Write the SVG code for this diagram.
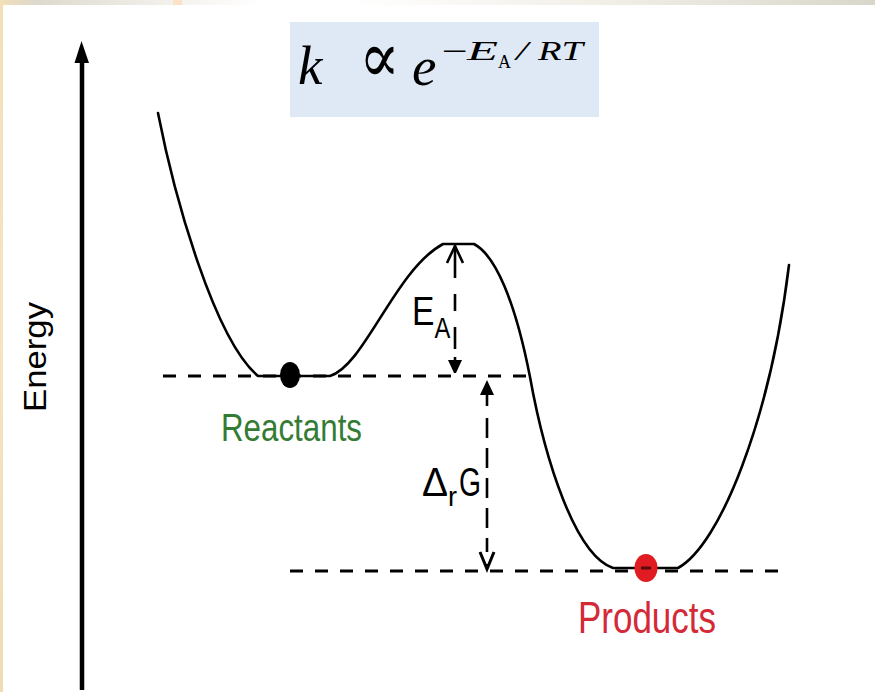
<svg xmlns="http://www.w3.org/2000/svg" width="875" height="692" viewBox="0 0 875 692">
  <defs>
    <linearGradient id="topg" x1="0" y1="0" x2="875" y2="0" gradientUnits="userSpaceOnUse">
      <stop offset="0" stop-color="#f2dfb8"/>
      <stop offset="0.04" stop-color="#ddd9cc"/>
      <stop offset="0.2" stop-color="#f4f2ee"/>
      <stop offset="0.3" stop-color="#ffffff"/>
      <stop offset="0.4" stop-color="#ffffff"/>
      <stop offset="0.7" stop-color="#f1eee6"/>
      <stop offset="1" stop-color="#d9d6cb"/>
    </linearGradient>
    <linearGradient id="leftg" x1="0" y1="0" x2="0" y2="692" gradientUnits="userSpaceOnUse">
      <stop offset="0" stop-color="#f3e0b8"/>
      <stop offset="0.5" stop-color="#f4e4c2"/>
      <stop offset="1" stop-color="#efdcb4"/>
    </linearGradient>
  </defs>
  <style>
    .curve { fill: none; stroke: #000; stroke-width: 2.6; stroke-linejoin: round; stroke-linecap: round; }
    .dash { fill: none; stroke: #000; stroke-width: 3; stroke-dasharray: 13 12; }
    .shaft { fill: none; stroke: #000; stroke-width: 2.6; }
    .lbl { font-family: "Liberation Sans", Arial, sans-serif; fill: #000; }
    .math { font-family: "Liberation Serif", "DejaVu Serif", serif; fill: #000; }
  </style>

  <g id="background">
    <rect x="0" y="0" width="875" height="692" fill="#ffffff"/>
    <rect x="0" y="0" width="875" height="5" fill="url(#topg)"/>
    <rect x="0" y="0" width="3" height="692" fill="url(#leftg)"/>
    <rect x="173" y="0" width="9" height="5" fill="#fde3c6"/>
  </g>

  <g id="axis">
    <line x1="82" y1="60" x2="82" y2="690" stroke="#000" stroke-width="4.5"/>
    <polygon points="81.5,41 74.5,63 89,63" fill="#000"/>
    <text class="lbl" x="0" y="0" font-size="31" textLength="110" lengthAdjust="spacingAndGlyphs" transform="translate(46,412) rotate(-90)">Energy</text>
  </g>

  <g id="formula">
    <rect x="290" y="22" width="309" height="95" fill="#dfe9f5"/>
    <text class="math" x="298" y="84" font-size="55" font-style="italic">k</text>
    <text class="math" x="359" y="82" font-size="72" textLength="41" lengthAdjust="spacingAndGlyphs">∝</text>
    <text class="math" x="412" y="85" font-size="55" font-style="italic">e</text>
    <text class="math" x="442" y="61" font-size="30" textLength="26" lengthAdjust="spacingAndGlyphs">−</text>
    <text class="math" x="467" y="60" font-size="28" font-style="italic" textLength="31" lengthAdjust="spacingAndGlyphs">E</text>
    <text class="math" x="498" y="68" font-size="19" textLength="13" lengthAdjust="spacingAndGlyphs">A</text>
    <text class="math" x="516" y="60" font-size="28" font-style="italic" textLength="12" lengthAdjust="spacingAndGlyphs">/</text>
    <text class="math" x="538" y="60" font-size="28" font-style="italic" textLength="45" lengthAdjust="spacingAndGlyphs">RT</text>
  </g>

  <g id="connectors">
    <line class="dash" x1="163" y1="376" x2="530" y2="376"/>
    <line class="dash" x1="290" y1="571" x2="786" y2="571"/>
    <path class="curve" d="M158,113 C175,200 215,340 258,376 L330,376 C365,365 395,270 443,244 L474,244 C495,255 515,300 530,377 C545,460 575,555 613,568 L678,568 C720,545 770,420 789,265"/>
  </g>

  <g id="reactants">
    <ellipse cx="290" cy="375" rx="10" ry="13" fill="#000"/>
    <text class="lbl" x="221" y="441" font-size="38" style="fill:#347c34" textLength="141" lengthAdjust="spacingAndGlyphs">Reactants</text>
  </g>

  <g id="products">
    <ellipse cx="646" cy="568" rx="11.5" ry="14" fill="#e01c22"/>
    <line x1="641" y1="568" x2="651" y2="568" stroke="#5a0a0a" stroke-width="3"/>
    <text class="lbl" x="578" y="633" font-size="45" style="fill:#d42a38" textLength="138" lengthAdjust="spacingAndGlyphs">Products</text>
  </g>

  <g id="activation-energy">
    <line class="shaft" x1="455" y1="246" x2="455" y2="360" stroke-dasharray="32 16 17 16 22 8"/>
    <polyline points="447,263 455,246 463,263" fill="none" stroke="#000" stroke-width="2.6"/>
    <polygon points="448,360 462,360 456,373 454,373" fill="#000"/>
    <text class="lbl" x="0" y="0" font-size="41" transform="translate(412,325) scale(0.82,1)">E<tspan font-size="29" dy="13">A</tspan></text>
  </g>

  <g id="reaction-free-energy">
    <line class="shaft" x1="487" y1="392" x2="487" y2="568" stroke-dasharray="14 12 20 10 20 10 20 10 20 10"/>
    <polygon points="487,380 480,395 494,395" fill="#000"/>
    <polyline points="480,552 487,569 494,552" fill="none" stroke="#000" stroke-width="3"/>
    <text class="lbl" x="422" y="496" font-size="40" textLength="26" lengthAdjust="spacingAndGlyphs">Δ</text>
    <text class="lbl" x="448" y="506" font-size="28" textLength="9" lengthAdjust="spacingAndGlyphs">r</text>
    <text class="lbl" x="459" y="496" font-size="40" textLength="22" lengthAdjust="spacingAndGlyphs">G</text>
  </g>
</svg>
